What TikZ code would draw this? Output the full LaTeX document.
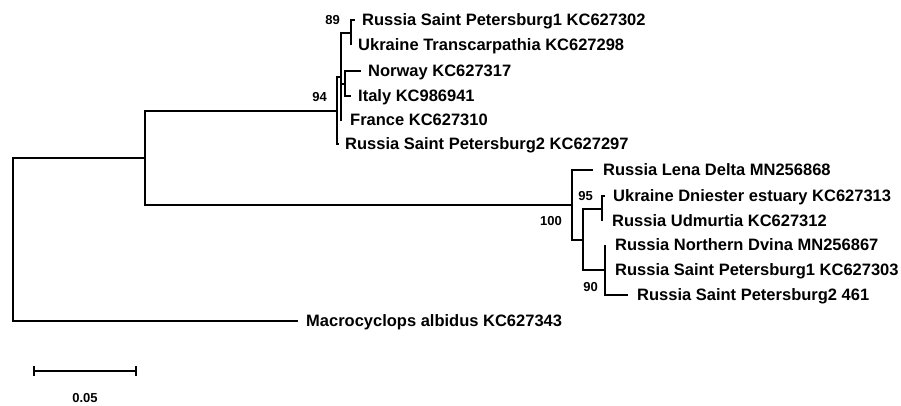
\documentclass[tikz,border=0pt]{standalone}
\usepackage{fontspec}
\setmainfont{Liberation Sans}
\begin{document}
\begin{tikzpicture}[x=1pt,y=-1pt,
  br/.style={line width=2pt},
  leaf/.style={anchor=west, inner sep=0pt, font=\fontsize{16.5}{17}\selectfont\bfseries, text height=11.8pt, text depth=0pt},
  boot/.style={anchor=east, inner sep=0pt, font=\fontsize{13}{14}\selectfont\bfseries, text height=9.3pt, text depth=0pt}]
\useasboundingbox (0,0) rectangle (901,405);

% leaf labels
\node[leaf] (l1) at (362,20) {Russia Saint Petersburg1 KC627302};
\node[leaf] (l2) at (358,45) {Ukraine Transcarpathia KC627298};
\node[leaf] (l3) at (368,71) {Norway KC627317};
\node[leaf] (l4) at (358,96) {Italy KC986941};
\node[leaf] (l5) at (350,120) {France KC627310};
\node[leaf] (l6) at (345,144) {Russia Saint Petersburg2 KC627297};
\node[leaf] (l7) at (603,170) {Russia Lena Delta MN256868};
\node[leaf] (l8) at (613,196) {Ukraine Dniester estuary KC627313};
\node[leaf] (l9) at (612,221) {Russia Udmurtia KC627312};
\node[leaf] (l10) at (615,245) {Russia Northern Dvina MN256867};
\node[leaf] (l11) at (615,270) {Russia Saint Petersburg1 KC627303};
\node[leaf] (l12) at (637,295) {Russia Saint Petersburg2 461};
\node[leaf] (l13) at (306,321) {Macrocyclops albidus KC627343};

% internal nodes
\coordinate (root) at (13,240);
\coordinate (ing) at (145,158);
\coordinate (n94) at (337,111);
\coordinate (nC) at (341,77);
\coordinate (n89) at (351,33);
\coordinate (nNI) at (345,84);
\coordinate (n100) at (572,205);
\coordinate (nX) at (583,240);
\coordinate (n95) at (602,209);
\coordinate (n90) at (605,270);

% branches
\draw[br] (root) |- (ing);
\draw[br] (root) |- ([xshift=-8pt]l13.west);
\draw[br] (ing) |- (n94);
\draw[br] (ing) |- (n100);
\draw[br] (n94) |- (nC);
\draw[br] (n94) |- ([xshift=-6pt]l6.west);
\draw[br] (nC) |- (n89);
\draw[br] (nC) |- (nNI);
\draw[br] (nC) |- ([xshift=-8pt]l5.west);
\draw[br] (n89) |- ([xshift=-7pt]l1.west);
\draw[br] (n89) |- ([xshift=-7pt]l2.west);
\draw[br] (nNI) |- ([xshift=-7pt]l3.west);
\draw[br] (nNI) |- ([xshift=-7pt]l4.west);
\draw[br] (n100) |- ([xshift=-10pt]l7.west);
\draw[br] (n100) |- (nX);
\draw[br] (nX) |- (n95);
\draw[br] (nX) |- (n90);
\draw[br] (n95) |- ([xshift=-8pt]l8.west);
\draw[br] (n95) |- ([xshift=-10pt]l9.west);
\draw[br] (n90) |- ([xshift=-10pt]l10.west);
\draw[br] (n90) |- ([xshift=-10pt]l11.west);
\draw[br] (n90) |- ([xshift=-9pt]l12.west);

% bootstrap values
\node[boot] (b89) at (340,20) {89};
\node[boot] (b94) at (327,97) {94};
\node[boot] (b95) at (593,196) {95};
\node[boot] (b100) at (562,221) {100};
\node[boot] (b90) at (598,287) {90};

% scale bar
\coordinate (s1) at (34,371);
\coordinate (s2) at (136,371);
\draw[br] (s1) -- (s2);
\draw[br] ([yshift=-5pt]s1) -- ([yshift=5pt]s1);
\draw[br] ([yshift=-5pt]s2) -- ([yshift=5pt]s2);
\node[boot, anchor=center] (sl) at (85,398) {0.05};
\end{tikzpicture}
\end{document}
